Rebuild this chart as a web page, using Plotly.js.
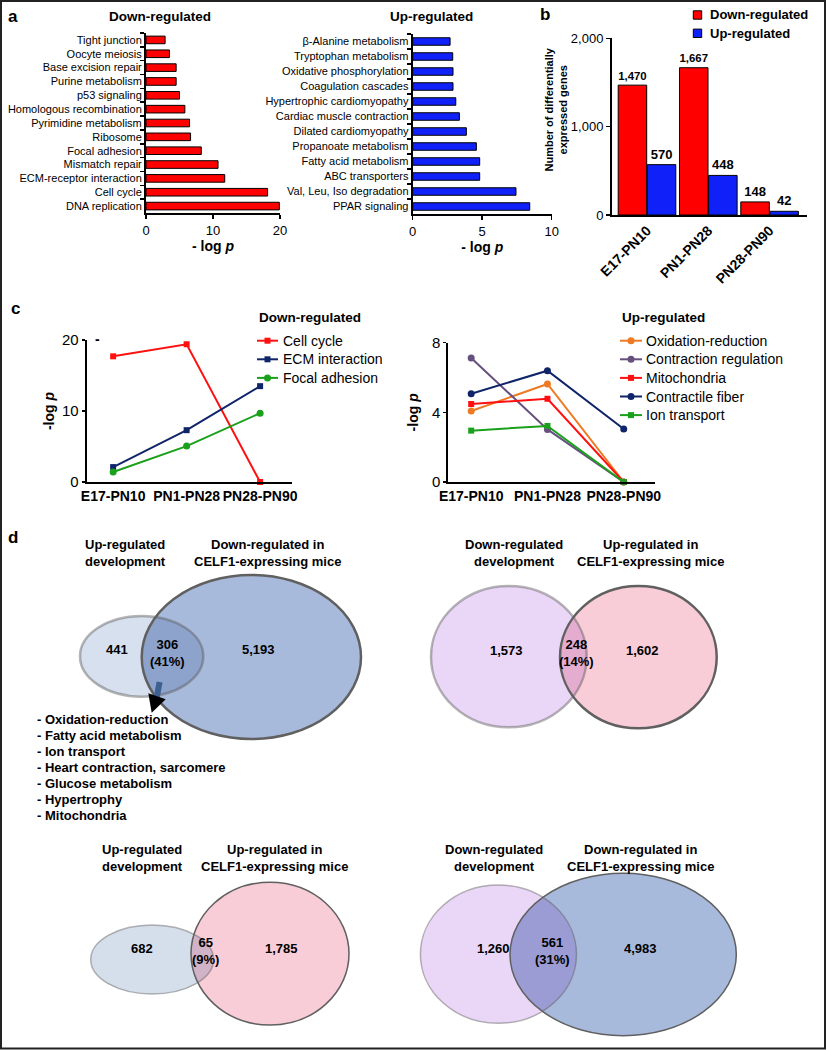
<!DOCTYPE html>
<html>
<head>
<meta charset="utf-8">
<script src="https://cdn.plot.ly/plotly-3.0.1.min.js"></script>
<style>html,body{margin:0;padding:0;background:#fff;}#chart{width:827px;height:1050px;}</style>
</head>
<body>
<div id="chart"></div>
<script>
// ---------------- DATA ----------------
// Panel a: KEGG pathways, -log p
const downTerms = ["Tight junction","Oocyte meiosis","Base excision repair","Purine metabolism","p53 signaling","Homologous recombination","Pyrimidine metabolism","Ribosome","Focal adhesion","Mismatch repair","ECM-receptor interaction","Cell cycle","DNA replication"];
const downLogP = [2.85,3.5,4.5,4.5,5.0,5.8,6.5,6.65,8.25,10.75,11.75,18.15,19.9];
const upTerms = ["β-Alanine metabolism","Tryptophan metabolism","Oxidative phosphorylation","Coagulation cascades","Hypertrophic cardiomyopathy","Cardiac muscle contraction","Dilated cardiomyopathy","Propanoate metabolism","Fatty acid metabolism","ABC transporters","Val, Leu, Iso degradation","PPAR signaling"];
const upLogP = [2.69,2.88,2.9,2.9,3.1,3.36,3.86,4.58,4.82,4.82,7.43,8.42];

// Panel b: number of differentially expressed genes
const periods = ["E17-PN10","PN1-PN28","PN28-PN90"];
const degSeries = ["Down-regulated","Up-regulated"];
const degDown = [1470,1667,148];
const degUp = [570,448,42];

// Panel c: GO terms across periods (-log p)
const downGoNames = ["Cell cycle","ECM interaction","Focal adhesion"];
const cellCycle = [17.7,19.4,0];
const ecmInteraction = [2.1,7.3,13.5];
const focalAdhesion = [1.4,5.06,9.7];
const upGoNames = ["Oxidation-reduction","Contraction regulation","Mitochondria","Contractile fiber","Ion transport"];
const oxidationReduction = [4.08,5.63,0];
const contractionRegulation = [7.12,3.02,0];
const mitochondria = [4.48,4.78,0];
const contractileFiber = [5.07,6.39,3.04];
const ionTransport = [2.95,3.22,0];

// Panel d: Venn diagrams
const vennTitleA = ["Up-regulated<br>development","Down-regulated<br>development","Up-regulated<br>development","Down-regulated<br>development"];
const vennTitleB = ["Down-regulated in<br>CELF1-expressing mice","Up-regulated in<br>CELF1-expressing mice","Up-regulated in<br>CELF1-expressing mice","Down-regulated in<br>CELF1-expressing mice"];
const vennOnlyA = [441,1573,682,1260];
const vennShared = [306,248,65,561];
const vennOnlyB = [5193,1602,1785,4983];
const vennSharedPct = [41,14,9,31];
const sharedTerms = ["Oxidation-reduction","Fatty acid metabolism","Ion transport","Heart contraction, sarcomere","Glucose metabolism","Hypertrophy","Mitochondria"];

// ---------------- LAYOUT HELPERS ----------------
const W = 827, H = 1050;
const F = "Liberation Sans, Arial, Helvetica, sans-serif";
const X = p => p / W;
const Y = p => 1 - p / H;
const domX = (a, b) => [a / W, b / W];
const domY = (top, bottom) => [1 - bottom / H, 1 - top / H];

const axBase = {showgrid:false, zeroline:false, showline:true, linecolor:'#000', linewidth:2,
  ticks:'outside', ticklen:4, tickwidth:1.5, tickcolor:'#000', fixedrange:true, automargin:false};
function ax(extra){ return Object.assign({}, axBase, extra); }

const RED = '#ff0000', BLUE = '#1020f8';

// ---------------- TRACES ----------------
const traces = [];
traces.push({type:'bar', orientation:'h', x:downLogP, y:downTerms, xaxis:'x', yaxis:'y', width:0.55,
  marker:{color:RED, line:{color:'#000', width:1}}, showlegend:false});
traces.push({type:'bar', orientation:'h', x:upLogP, y:upTerms, xaxis:'x2', yaxis:'y2', width:0.5,
  marker:{color:BLUE, line:{color:'#000', width:1}}, showlegend:false});

traces.push({type:'bar', name:degSeries[0], x:periods, y:degDown, xaxis:'x3', yaxis:'y3',
  offset:-0.47, width:0.465, marker:{color:RED, line:{color:'#000', width:1}},
  texttemplate:'<b>%{y:,}</b>', textposition:'outside', cliponaxis:false,
  textfont:{family:F, size:13, color:'#000'}, showlegend:false});
traces.push({type:'bar', name:degSeries[1], x:periods, y:degUp, xaxis:'x3', yaxis:'y3',
  offset:0.005, width:0.465, marker:{color:BLUE, line:{color:'#000', width:1}},
  texttemplate:'<b>%{y:,}</b>', textposition:'outside', cliponaxis:false,
  textfont:{family:F, size:13, color:'#000'}, showlegend:false});

const downGo = [
  {name:downGoNames[0], y:cellCycle, color:'#ff1010', symbol:'square'},
  {name:downGoNames[1], y:ecmInteraction, color:'#10246a', symbol:'square'},
  {name:downGoNames[2], y:focalAdhesion, color:'#1aa01a', symbol:'circle'}
];
const upGo = [
  {name:upGoNames[0], y:oxidationReduction, color:'#ee7a24', symbol:'circle'},
  {name:upGoNames[1], y:contractionRegulation, color:'#65507e', symbol:'circle'},
  {name:upGoNames[2], y:mitochondria, color:'#ff1010', symbol:'square'},
  {name:upGoNames[3], y:contractileFiber, color:'#10246a', symbol:'circle'},
  {name:upGoNames[4], y:ionTransport, color:'#1aa01a', symbol:'square'}
];
function lineTrace(s, xa, ya){
  return {type:'scatter', mode:'lines+markers', name:s.name, x:periods, y:s.y, xaxis:xa, yaxis:ya,
    line:{color:s.color, width:2}, marker:{color:s.color, symbol:s.symbol, size: s.symbol==='square'?6:7},
    cliponaxis:false, showlegend:false};
}
downGo.forEach(s=>traces.push(lineTrace(s,'x4','y4')));
upGo.forEach(s=>traces.push(lineTrace(s,'x5','y5')));

// ---------------- ANNOTATIONS & SHAPES ----------------
const annotations = [];
const shapes = [];
function txt(text, px, py, size, opts){
  annotations.push(Object.assign({text:text, x:X(px), y:Y(py), xref:'paper', yref:'paper', showarrow:false,
    xanchor:'center', yanchor:'middle', font:{family:F, size:size, color:'#000'}}, opts||{}));
}
function rectPx(x0,y0,x1,y1,fill,line,lw){
  shapes.push({type:'rect', xref:'paper', yref:'paper', x0:X(x0), x1:X(x1), y0:Y(y1), y1:Y(y0),
    fillcolor:fill, line:{color:line, width:lw}});
}
function linePx(x0,y0,x1,y1,color,lw){
  shapes.push({type:'line', xref:'paper', yref:'paper', x0:X(x0), y0:Y(y0), x1:X(x1), y1:Y(y1), line:{color:color, width:lw}});
}
function dotPx(cx,cy,r,color){
  shapes.push({type:'circle', xref:'paper', yref:'paper', x0:X(cx-r), x1:X(cx+r), y0:Y(cy+r), y1:Y(cy-r),
    fillcolor:color, line:{color:color, width:0}});
}

// panel letters
txt('<b>a</b>', 13, 16, 17);
txt('<b>b</b>', 545, 15, 17);
txt('<b>c</b>', 15, 308, 17);
txt('<b>d</b>', 13, 537, 17);
// panel a titles
txt('<b>Down-regulated</b>', 160.3, 16.7, 13.5);
txt('<b>Up-regulated</b>', 431.7, 16.7, 13.5);
// panel b y title
txt('<b>Number of differentially<br>expressed genes</b>', 555.5, 110, 11, {textangle:-90});
// stray dash next to 20 in panel c
txt('<b>-</b>', 97, 339, 14);

// legend, panel b
[RED, BLUE].forEach((c,k)=>{
  const cy = 15 + k*18.3;
  rectPx(693.3, cy-4.2, 701.7, cy+4.2, c, '#000', 1);
  txt('<b>'+degSeries[k]+'</b>', 707.7, cy, 13, {xanchor:'left'});
});
// legends, panel c
function goLegend(list, title, x0, x1, tx){
  txt('<b>'+title+'</b>', x0, 317, 13.5, {xanchor:'left'});
  list.forEach((s,k)=>{
    const cy = 340.7 + k*18.6;
    linePx(x0, cy, x1, cy, s.color, 2);
    const mx = (x0+x1)/2;
    if (s.symbol==='square') rectPx(mx-3, cy-3, mx+3, cy+3, s.color, s.color, 0);
    else dotPx(mx, cy, 3.5, s.color);
    txt(s.name, tx, cy, 14, {xanchor:'left'});
  });
}
goLegend(downGo, 'Down-regulated', 257, 278, 281);
goLegend(upGo, 'Up-regulated', 620, 642, 644);

// Venn geometry (layout, px)
const vennGeom = [
  {a:[80,203.3,616,696.7], b:[141.7,361,575,739], lw:2.5,
   pos:{oa:[116.7,649.3], sh:[167.7,653], ob:[258.3,649.3], ta:[125.7,553], tb:[267.3,553]}},
  {a:[431,586.7,586,727.3], b:[560,716.7,586,728.3], lw:2.5,
   pos:{oa:[506,650], sh:[576.7,653], ob:[642.7,650], ta:[514.3,553], tb:[650,553]}},
  {a:[90.7,213.6,925,994], b:[191,349,882.3,1025], lw:1.5,
   pos:{oa:[142.4,948.3], sh:[205.7,951], ob:[281,948.3], ta:[142.4,857.5], tb:[274,857.5]}},
  {a:[420.4,576.5,885,1023.3], b:[510,736.3,873.3,1035.7], lw:1.5,
   pos:{oa:[493.7,948.3], sh:[552.2,951], ob:[640.8,948.3], ta:[494.2,857.5], tb:[640.8,857.5]}}
];
const vennColorA = ['#d7e0ee','#ead6f6','#d5dfeb','#ead6f6'];
const vennColorB = ['#a8badb','#f9cdd7','#f9cdd7','#a8badb'];

function hex2rgb(h){ return [1,3,5].map(i=>parseInt(h.substr(i,2),16)); }
function multiply(a,b){ const A=hex2rgb(a),B=hex2rgb(b); return 'rgb('+A.map((v,i)=>Math.round(v*B[i]/255)).join(',')+')'; }
function ell(box){ return {cx:(box[0]+box[1])/2, cy:(box[2]+box[3])/2, rx:(box[1]-box[0])/2, ry:(box[3]-box[2])/2}; }
function ellPts(e,n){ const p=[]; for(let i=0;i<n;i++){const t=2*Math.PI*i/n; p.push([e.cx+e.rx*Math.cos(t), e.cy+e.ry*Math.sin(t)]);} return p; }
function inside(p,e){ const dx=(p[0]-e.cx)/e.rx, dy=(p[1]-e.cy)/e.ry; return dx*dx+dy*dy<=1.0000001; }
function lensPath(ea, eb){
  let pts = ellPts(ea,720).filter(p=>inside(p,eb)).concat(ellPts(eb,720).filter(p=>inside(p,ea)));
  const cx = pts.reduce((s,p)=>s+p[0],0)/pts.length, cy = pts.reduce((s,p)=>s+p[1],0)/pts.length;
  pts.sort((p,q)=>Math.atan2(p[1]-cy,p[0]-cx)-Math.atan2(q[1]-cy,q[0]-cx));
  return 'M' + pts.map(p=>X(p[0]).toFixed(5)+','+Y(p[1]).toFixed(5)).join(' L') + ' Z';
}
function ellipseShape(box, fill, line, lw){
  return {type:'circle', xref:'paper', yref:'paper', x0:X(box[0]), x1:X(box[1]), y0:Y(box[3]), y1:Y(box[2]),
    fillcolor:fill, line:{color:line, width:lw}};
}
const fmt = n => n.toLocaleString('en-US');

vennGeom.forEach((g,i)=>{
  const ea = ell(g.a), eb = ell(g.b);
  shapes.push(ellipseShape(g.a, vennColorA[i], 'rgba(0,0,0,0)', 0));
  shapes.push(ellipseShape(g.b, vennColorB[i], 'rgba(0,0,0,0)', 0));
  shapes.push({type:'path', xref:'paper', yref:'paper', path:lensPath(ea,eb), fillcolor:multiply(vennColorA[i],vennColorB[i]), line:{width:0}});
  shapes.push(ellipseShape(g.a, 'rgba(0,0,0,0)', 'rgba(90,90,90,0.45)', g.lw));
  shapes.push(ellipseShape(g.b, 'rgba(0,0,0,0)', '#606060', g.lw));
  const P = g.pos;
  txt('<b>'+fmt(vennOnlyA[i])+'</b>', P.oa[0], P.oa[1], 13);
  txt('<b>'+fmt(vennShared[i])+'<br>('+vennSharedPct[i]+'%)</b>', P.sh[0], P.sh[1], 13);
  txt('<b>'+fmt(vennOnlyB[i])+'</b>', P.ob[0], P.ob[1], 13);
  txt('<b>'+vennTitleA[i]+'</b>', P.ta[0], P.ta[1], 13);
  txt('<b>'+vennTitleB[i]+'</b>', P.tb[0], P.tb[1], 13);
});

// arrow from the overlap to the term list
linePx(159.6, 682, 156.8, 697, '#3e5f91', 6);
shapes.push({type:'path', xref:'paper', yref:'paper',
  path:'M'+X(148.3)+','+Y(693.3)+' L'+X(165.7)+','+Y(699.3)+' L'+X(151.7)+','+Y(712.7)+' Z', fillcolor:'#000', line:{width:0}});
// term list
sharedTerms.forEach((t,k)=>{ txt('<b>- '+t+'</b>', 35, 719.3 + k*15.95, 13, {xanchor:'left'}); });

// outer frame
shapes.push({type:'rect', xref:'paper', yref:'paper', x0:X(1), x1:X(825), y0:Y(1048.5), y1:Y(1), line:{color:'#222', width:2}, fillcolor:'rgba(0,0,0,0)'});

// ---------------- LAYOUT ----------------
const layout = {
  width:W, height:H, margin:{l:0,r:0,t:0,b:0}, paper_bgcolor:'#fff', plot_bgcolor:'rgba(0,0,0,0)',
  font:{family:F, color:'#000'}, barmode:'group', bargap:0, bargroupgap:0, showlegend:false,
  // panel a, down
  xaxis: ax({domain:domX(146,280), range:[0,20], tickvals:[0,10,20], anchor:'y', tickfont:{family:F,size:13,color:'#000'},
    title:{text:'<b>- log <i>p</i></b>', font:{family:F,size:14,color:'#000'}, standoff:4}}),
  yaxis: ax({domain:domY(33,213), type:'category', autorange:'reversed', anchor:'x', tickson:'boundaries', ticklen:4,
    tickfont:{family:F,size:11,color:'#000'}}),
  // panel a, up
  xaxis2: ax({domain:domX(412.7,551.7), range:[0,10], tickvals:[0,5,10], anchor:'y2', tickfont:{family:F,size:13,color:'#000'},
    title:{text:'<b>- log <i>p</i></b>', font:{family:F,size:14,color:'#000'}, standoff:4}}),
  yaxis2: ax({domain:domY(34,214), type:'category', autorange:'reversed', anchor:'x2', tickson:'boundaries', ticklen:4,
    tickfont:{family:F,size:11,color:'#000'}}),
  // panel b
  xaxis3: ax({domain:domX(612,807), type:'category', range:[-0.571,2.61], anchor:'y3', ticks:'', tickangle:-45,
    tickfont:{family:F,size:14,color:'#000',weight:'bold'}}),
  yaxis3: ax({domain:domY(38.3,215), range:[0,2000], tickvals:[0,1000,2000], tickformat:',', anchor:'x3',
    tickfont:{family:F,size:13,color:'#000'}}),
  // panel c, down
  xaxis4: ax({domain:domX(86.7,291.7), type:'category', range:[-0.36,2.43], anchor:'y4', ticks:'',
    tickfont:{family:F,size:14,color:'#000',weight:'bold'}}),
  yaxis4: ax({domain:domY(340,482), range:[0,20], tickvals:[0,10,20], anchor:'x4', ticklen:3,
    tickfont:{family:F,size:15,color:'#000'},
    title:{text:'<b>-log <i>p</i></b>', font:{family:F,size:14,color:'#000'}, standoff:4}}),
  // panel c, up
  xaxis5: ax({domain:domX(448.3,655), type:'category', range:[-0.30,2.41], anchor:'y5', ticks:'',
    tickfont:{family:F,size:14,color:'#000',weight:'bold'}}),
  yaxis5: ax({domain:domY(342.7,482), range:[0,8], tickvals:[0,4,8], anchor:'x5', ticklen:3,
    tickfont:{family:F,size:15,color:'#000'},
    title:{text:'<b>-log <i>p</i></b>', font:{family:F,size:14,color:'#000'}, standoff:10}}),
  annotations: annotations,
  shapes: shapes
};

Plotly.newPlot('chart', traces, layout, {displayModeBar:false, staticPlot:true});
</script>
</body>
</html>
